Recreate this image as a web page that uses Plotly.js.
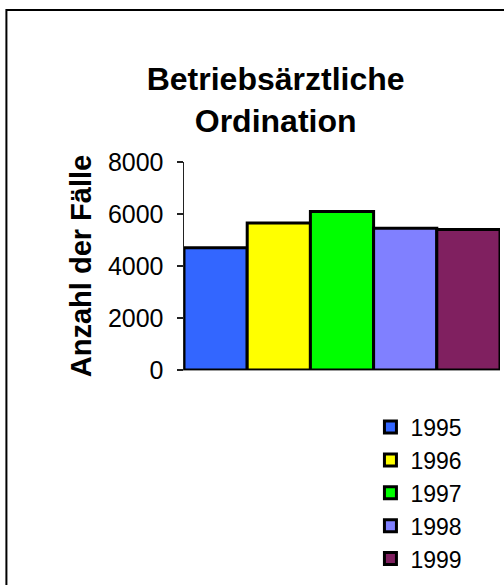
<!DOCTYPE html>
<html>
<head>
<meta charset="utf-8">
<script src="https://cdn.plot.ly/plotly-3.0.1.min.js"></script>
<style>html,body{margin:0;padding:0;background:#fff;}#chart{width:504px;height:585px;}</style>
</head>
<body>
<div id="chart"></div>
<script>
const years = ["1995", "1996", "1997", "1998", "1999"];
const cases = [4700, 5650, 6100, 5450, 5400];
const colors = ["#3366FF", "#FFFF00", "#00FF00", "#8080FF", "#802060"];
const yTicks = [0, 2000, 4000, 6000, 8000];

const traces = years.map((yr, i) => ({
  type: "bar",
  name: yr,
  x: ["Fälle"],
  y: [cases[i]],
  marker: { color: colors[i], line: { color: "#000", width: 3 } },
  hoverinfo: "name+y"
}));

const layout = {
  width: 504, height: 585,
  margin: { l: 184, r: 4, t: 162, b: 215, autoexpand: false },
  paper_bgcolor: "#fff", plot_bgcolor: "#fff",
  font: { family: "Liberation Sans, Arial, sans-serif", color: "#000" },
  title: {
    text: "<b>Betriebsärztliche<br>Ordination</b>",
    font: { size: 32, family: "Liberation Sans, Arial, sans-serif", color: "#000" },
    x: 0.29, xref: "paper", xanchor: "center",
    y: 0.846, yref: "container", yanchor: "middle"
  },
  barmode: "group", bargap: 0, bargroupgap: 0,
  showlegend: true,
  legend: {
    x: 0.59, xanchor: "left", y: -0.171, yanchor: "top",
    font: { size: 23, color: "#000" },
    tracegroupgap: 0, bgcolor: "rgba(0,0,0,0)",
    itemwidth: 30
  },
  xaxis: {
    showticklabels: false, ticks: "", showgrid: false, zeroline: false,
    showline: true, linecolor: "#999", linewidth: 1,
    range: [-0.5, 0.5], fixedrange: true
  },
  yaxis: {
    range: [0, 8000], tickvals: yTicks, ticktext: yTicks.map(String),
    ticks: "outside", ticklen: 6, tickwidth: 1.5, tickcolor: "#222",
    showline: true, linecolor: "#222", linewidth: 1.5,
    showgrid: false, zeroline: false,
    tickfont: { size: 25, color: "#000" },
    ticklabelstandoff: 8,
    title: { text: "<b>Anzahl der Fälle</b>", font: { size: 29, color: "#000" }, standoff: 7 }
  },
  shapes: [{
    type: "rect", xref: "paper", yref: "paper",
    x0: -0.562, x1: 1.2, y0: -1.2, y1: 1.731,
    line: { color: "#000", width: 2 }, layer: "below"
  }]
};

Plotly.newPlot("chart", traces, layout, { displayModeBar: false, staticPlot: true });
</script>
</body>
</html>
